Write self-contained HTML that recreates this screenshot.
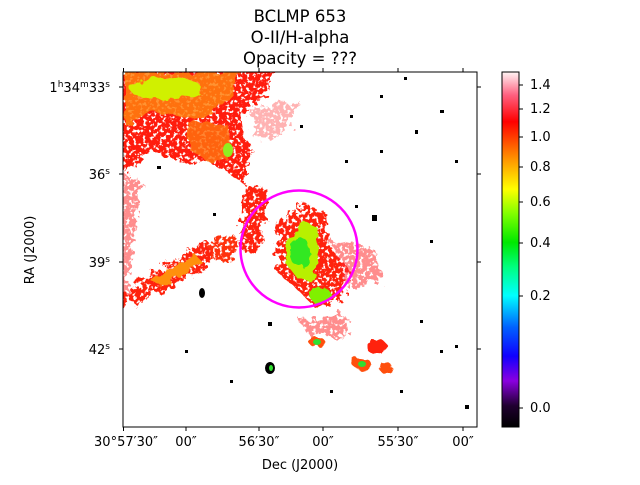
<!DOCTYPE html>
<html><head><meta charset="utf-8"><style>
body{margin:0;background:#fff;font-family:"Liberation Sans","DejaVu Sans",sans-serif;}
svg text{font-family:"DejaVu Sans","Liberation Sans",sans-serif;fill:#000}
</style></head><body>
<svg width="640" height="480" viewBox="0 0 640 480">
<defs>
<linearGradient id="cb" x1="0" y1="1" x2="0" y2="0">
<stop offset="0" stop-color="#000"/>
<stop offset="0.06" stop-color="#200030"/>
<stop offset="0.13" stop-color="#8a00e0"/>
<stop offset="0.2" stop-color="#1000ff"/>
<stop offset="0.28" stop-color="#0060ff"/>
<stop offset="0.37" stop-color="#00ffff"/>
<stop offset="0.45" stop-color="#00ff80"/>
<stop offset="0.52" stop-color="#00e800"/>
<stop offset="0.6" stop-color="#80ff00"/>
<stop offset="0.67" stop-color="#ffff00"/>
<stop offset="0.75" stop-color="#ff9a00"/>
<stop offset="0.86" stop-color="#ff0000"/>
<stop offset="0.935" stop-color="#ff6080"/>
<stop offset="1" stop-color="#fff5f5"/>
</linearGradient>
<filter id="rough" x="-20%" y="-20%" width="140%" height="140%">
<feTurbulence type="fractalNoise" baseFrequency="0.12" numOctaves="3" seed="3" result="t"/>
<feDisplacementMap in="SourceGraphic" in2="t" scale="18" result="d"/>
<feTurbulence type="fractalNoise" baseFrequency="0.3" numOctaves="2" seed="7" result="n"/>
<feColorMatrix in="n" type="matrix" values="0 0 0 0 0  0 0 0 0 0  0 0 0 0 0  0 0 0 -9 6.0" result="m"/>
<feComposite in="d" in2="m" operator="in"/>
</filter>
<filter id="rough2" x="-20%" y="-20%" width="140%" height="140%">
<feTurbulence type="fractalNoise" baseFrequency="0.1" numOctaves="2" seed="11" result="t"/>
<feDisplacementMap in="SourceGraphic" in2="t" scale="10"/>
</filter>
<clipPath id="pc"><rect x="123" y="72" width="354" height="355"/></clipPath>
</defs>
<text x="300" y="22" font-size="16.5" text-anchor="middle">BCLMP 653</text>
<text x="300" y="43" font-size="16.5" text-anchor="middle">O-II/H-alpha</text>
<text x="300" y="64" font-size="16.5" text-anchor="middle">Opacity = ???</text>
<g clip-path="url(#pc)">
<g filter="url(#rough)">
<path d="M115 65 L275 65 L265 95 L240 115 L250 150 L245 185 L225 170 L200 160 L170 160 L150 150 L130 170 L115 180Z" fill="#ff1a10"/>
<path d="M115 170 L140 180 L135 230 L125 300 L115 300Z" fill="#ff4040" opacity="0.6"/>
<path d="M120 295 L160 270 L200 245 L220 238 L215 262 L180 282 L140 302 L120 308Z" fill="#ff2010"/>
<path d="M245 185 L268 190 L262 235 L255 255 L240 248Z" fill="#ff2010"/>
<path d="M278 225 L305 205 L325 212 L332 250 L350 270 L342 298 L315 308 L300 292 L275 270Z" fill="#ff2010"/>
<path d="M330 240 L375 250 L385 280 L350 290Z" fill="#ff3030" opacity="0.55"/>
<path d="M210 240 L238 238 L235 258 L212 262Z" fill="#ff3010"/>
<path d="M300 320 L345 315 L350 335 L310 338Z" fill="#ff4040" opacity="0.6"/>
<path d="M250 110 L300 100 L290 130 L255 140Z" fill="#ff4040" opacity="0.4"/>
</g>
<g filter="url(#rough2)">
<path d="M125 72 L240 72 L230 100 L195 120 L150 112 L125 125Z" fill="#ff8010" opacity="0.85"/>
<path d="M185 120 L228 125 L232 158 L210 162 L190 150Z" fill="#ff7010" opacity="0.85"/>
<ellipse cx="165" cy="88" rx="36" ry="11" fill="#d0f000"/>
<path d="M150 280 L195 254 L202 262 L160 287Z" fill="#ff9010"/>
<path d="M288 240 L305 222 L318 228 L318 262 L312 283 L296 277 L285 262Z" fill="#b8f000"/>
<ellipse cx="300" cy="252" rx="10" ry="15" fill="#30e820"/>
<ellipse cx="320" cy="295" rx="11" ry="8" fill="#80f000"/>
<ellipse cx="317" cy="342" rx="8" ry="5" fill="#ff5010"/>
<ellipse cx="377" cy="347" rx="10" ry="8" fill="#ff2010"/>
<ellipse cx="362" cy="364" rx="9" ry="6" fill="#ff5010"/>
<ellipse cx="386" cy="368" rx="7" ry="5" fill="#ff5010"/>
</g>
<ellipse cx="228" cy="150" rx="5" ry="7" fill="#90ee20"/>
<ellipse cx="317" cy="342" rx="4" ry="3" fill="#30e030"/>
<ellipse cx="362" cy="364" rx="4" ry="3" fill="#30e030"/>
<ellipse cx="270" cy="368" rx="5" ry="6" fill="#000"/><ellipse cx="271" cy="368" rx="2" ry="3" fill="#30e030"/>
<ellipse cx="202" cy="293" rx="3" ry="5" fill="#000"/>
<g fill="#000">
<rect x="300" y="125" width="3" height="3"/><rect x="350" y="115" width="3" height="3"/><rect x="404" y="77" width="3" height="3"/>
<rect x="415" y="130" width="3" height="4"/><rect x="380" y="150" width="3" height="3"/><rect x="440" y="110" width="4" height="3"/>
<rect x="372" y="215" width="5" height="6"/><rect x="355" y="205" width="3" height="3"/><rect x="455" y="160" width="3" height="3"/>
<rect x="268" y="322" width="4" height="4"/><rect x="185" y="350" width="3" height="3"/>
<rect x="420" y="320" width="3" height="3"/><rect x="440" y="350" width="3" height="3"/><rect x="455" y="345" width="3" height="3"/>
<rect x="230" y="380" width="3" height="3"/><rect x="330" y="390" width="3" height="3"/><rect x="400" y="390" width="3" height="3"/>
<rect x="157" y="166" width="4" height="3"/><rect x="213" y="213" width="3" height="3"/><rect x="380" y="95" width="3" height="3"/>
<rect x="465" y="405" width="4" height="4"/><rect x="430" y="240" width="3" height="3"/><rect x="345" y="160" width="3" height="3"/>
</g>
</g>
<circle cx="299" cy="249" r="58.5" fill="none" stroke="#ff00ff" stroke-width="2.5"/>
<rect x="123" y="72" width="354" height="355" fill="none" stroke="#000"/>
<g stroke="#000">
<line x1="123.5" y1="427" x2="123.5" y2="431"/><line x1="186" y1="427" x2="186" y2="431"/><line x1="259" y1="427" x2="259" y2="431"/><line x1="323" y1="427" x2="323" y2="431"/><line x1="398" y1="427" x2="398" y2="431"/><line x1="463" y1="427" x2="463" y2="431"/>
<line x1="123.5" y1="72" x2="123.5" y2="68"/><line x1="186" y1="72" x2="186" y2="68"/><line x1="259" y1="72" x2="259" y2="68"/><line x1="323" y1="72" x2="323" y2="68"/><line x1="398" y1="72" x2="398" y2="68"/><line x1="463" y1="72" x2="463" y2="68"/>
<line x1="119" y1="87" x2="123" y2="87"/><line x1="119" y1="174" x2="123" y2="174"/><line x1="119" y1="262" x2="123" y2="262"/><line x1="119" y1="349" x2="123" y2="349"/>
<line x1="477" y1="87" x2="481" y2="87"/><line x1="477" y1="174" x2="481" y2="174"/><line x1="477" y1="262" x2="481" y2="262"/><line x1="477" y1="349" x2="481" y2="349"/>
</g>
<g font-size="13" text-anchor="middle">
<text x="126" y="446">30°57′30″</text><text x="186" y="446">00″</text><text x="259" y="446">56′30″</text><text x="323" y="446">00″</text><text x="398" y="446">55′30″</text><text x="463" y="446">00″</text>
</g>
<g font-size="13" text-anchor="end">
<text x="110" y="92">1<tspan font-size="9" dy="-5">h</tspan><tspan dy="5">34</tspan><tspan font-size="9" dy="-5">m</tspan><tspan dy="5">33</tspan><tspan font-size="9" dy="-5">s</tspan></text>
<text x="110" y="179">36<tspan font-size="9" dy="-5">s</tspan></text>
<text x="110" y="267">39<tspan font-size="9" dy="-5">s</tspan></text>
<text x="110" y="354">42<tspan font-size="9" dy="-5">s</tspan></text>
</g>
<text x="300" y="469" font-size="13" text-anchor="middle">Dec (J2000)</text>
<text x="34" y="250" font-size="13" text-anchor="middle" transform="rotate(-90 34 250)">RA (J2000)</text>
<rect x="502" y="72" width="17" height="355" fill="url(#cb)" stroke="#000"/>
<g stroke="#000">
<line x1="519" y1="85" x2="523" y2="85"/><line x1="519" y1="109" x2="523" y2="109"/><line x1="519" y1="137" x2="523" y2="137"/><line x1="519" y1="167" x2="523" y2="167"/><line x1="519" y1="202" x2="523" y2="202"/><line x1="519" y1="243" x2="523" y2="243"/><line x1="519" y1="296" x2="523" y2="296"/><line x1="519" y1="408" x2="523" y2="408"/>
</g>
<g font-size="13">
<text x="530" y="89">1.4</text><text x="530" y="113">1.2</text><text x="530" y="141">1.0</text><text x="530" y="171">0.8</text><text x="530" y="206">0.6</text><text x="530" y="247">0.4</text><text x="530" y="300">0.2</text><text x="530" y="412">0.0</text>
</g>
</svg>
</body></html>
